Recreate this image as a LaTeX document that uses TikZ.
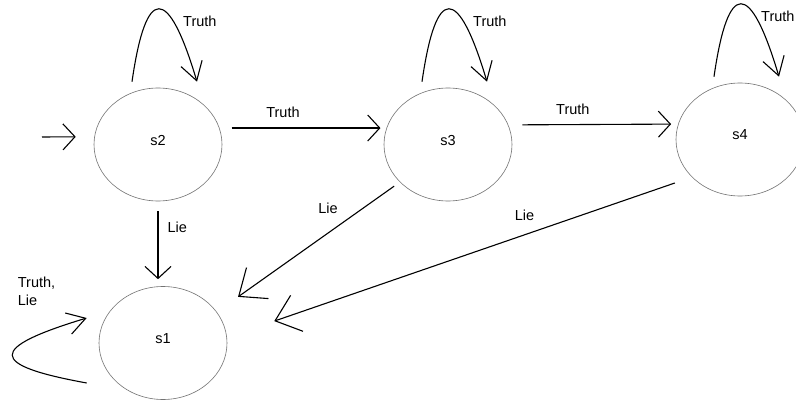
\documentclass[tikz,border=0pt]{standalone}
\usepackage{fontspec}
\setmainfont{Liberation Sans}
\usetikzlibrary{arrows.meta,shapes.geometric,positioning}

\tikzset{
  state/.style={ellipse, draw=black!55, line width=0.6pt, minimum width=128pt,
    minimum height=113pt, inner sep=0pt, text depth=9pt},
  trans/.style={-{Straight Barb[length=12pt,width=26pt]}, line width=1.1pt},
  longtrans/.style={-{Straight Barb[length=23pt,width=38pt]}, line width=1.1pt},
  selfloop/.style={-{Straight Barb[length=18pt,width=22pt]}, line width=1.1pt},
  tag/.style={inner sep=0pt},
}

\begin{document}
\begin{tikzpicture}[x=1pt, y=-1pt, font=\fontsize{14.5}{18}\selectfont]

    \path [use as bounding box, fill=white] (0,0) rectangle (796,404);

    % states
    \node [state] (s2) at (158,144.5) {s2};
    \node [state] (s3) at (448,144.5) {s3};
    \node [state] (s4) at (740,139.5) {s4};
    \node [state] (s1) at (163,343) {s1};

    % start
    \coordinate (init) at (42,137);
    \draw [trans, shorten >=18.6pt] (init) -- (s2.173);

    % truth
    \draw [trans, shorten <=12pt, shorten >=6pt] (s2.15) -- (s3.165)
      node [tag, above=9.5pt, pos=0.38] {Truth};
    \draw [trans, shorten <=14pt, shorten >=7pt] (s3.18) -- (s4.166)
      node [tag, above=9.5pt, pos=0.38] {Truth};

    \foreach \s/\dx in {s2/25,s3/25,s4/21} {
      \draw [selfloop] ([xshift=-26pt, yshift=6pt]\s.north)
        .. controls +(14,-97) and +(-29,-97) .. ([xshift=39pt, yshift=6pt]\s.north);
      \node [tag, anchor=west] (truth-\s) at ([xshift=\dx pt, yshift=66pt]\s.north) {Truth};
    }

    % lie
    \draw [trans, shorten <=10pt, shorten >=7pt] (s2.south) -- (s2.south |- s1.north)
      node [tag, right=9pt, pos=0.31] {Lie};
    \draw [longtrans, shorten <=7pt, shorten >=26pt] (s3.218) -- (s1.30)
      node [tag, left=25pt, pos=0.2] {Lie};
    \draw [longtrans, shorten <=18pt, shorten >=50pt] (s4.218) -- (s1.5)
      node [tag, above=14pt, pos=0.36] {Lie};

    % s1 loop
    \draw [selfloop] ([xshift=-12pt, yshift=-40pt]s1.west)
      .. controls +(-99,-18) and +(-99,30) .. ([xshift=-12pt, yshift=25pt]s1.west);
    \node [tag, align=left, anchor=north west] (truth-s1) at ([xshift=-81pt, yshift=66pt]s1.west) {Truth,\\Lie};

\end{tikzpicture}
\end{document}
